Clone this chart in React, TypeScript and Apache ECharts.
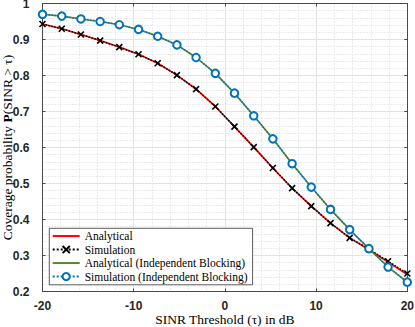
import React, { useEffect, useRef } from "react";
import * as echarts from "echarts";

// SINR threshold samples (dB)
const thresholdDb = [
  -20, -17.89, -15.79, -13.68, -11.58, -9.47, -7.37, -5.26, -3.16, -1.05,
  1.05, 3.16, 5.26, 7.37, 9.47, 11.58, 13.68, 15.79, 17.89, 20,
];
const analytical = [
  0.943, 0.93, 0.914, 0.897, 0.879, 0.859, 0.834, 0.801, 0.762, 0.714,
  0.658, 0.601, 0.543, 0.487, 0.437, 0.39, 0.349, 0.316, 0.282, 0.247,
];
const simulation = [
  0.943, 0.93, 0.914, 0.897, 0.879, 0.859, 0.834, 0.801, 0.762, 0.714,
  0.658, 0.601, 0.543, 0.487, 0.437, 0.39, 0.349, 0.318, 0.284, 0.25,
];
const analyticalIndep = [
  0.97, 0.965, 0.957, 0.95, 0.941, 0.928, 0.909, 0.885, 0.85, 0.806,
  0.751, 0.688, 0.624, 0.555, 0.49, 0.428, 0.372, 0.319, 0.268, 0.226,
];
const simulationIndep = [
  0.97, 0.965, 0.957, 0.95, 0.941, 0.928, 0.909, 0.885, 0.85, 0.806,
  0.751, 0.688, 0.624, 0.555, 0.49, 0.428, 0.372, 0.319, 0.268, 0.226,
];
const seriesNames = [
  "Analytical",
  "Simulation",
  "Analytical (Independent Blocking)",
  "Simulation (Independent Blocking)",
];

const pair = (ys: number[]) => thresholdDb.map((x, i) => [x, ys[i]]);

const SERIF = "'Liberation Serif', 'DejaVu Serif', serif";
const SANS = "'Liberation Sans', Arial, sans-serif";
const AXIS_COLOR = "#4a4a4a";

export default function App() {
  const ref = useRef<HTMLDivElement>(null);
  useEffect(() => {
    if (!ref.current) return;
    const chart = echarts.init(ref.current, undefined, { renderer: "svg" });
    const boxAxis = {
      axisLine: { show: true, onZero: false, lineStyle: { color: AXIS_COLOR, width: 1 } },
      axisTick: { show: true, inside: true, length: 3, lineStyle: { color: AXIS_COLOR } },
      axisLabel: { show: false },
      splitLine: { show: false },
      minorSplitLine: { show: false },
    };
    chart.setOption({
      animation: false,
      backgroundColor: "#ffffff",
      grid: {
        left: 42.5,
        right: 7.7,
        top: 3.5,
        bottom: 35.5,
        containLabel: false,
        outerBoundsMode: "none",
      },
      xAxis: [
        {
          type: "value",
          min: -20,
          max: 20,
          interval: 10,
          position: "bottom",
          name: "SINR Threshold (τ) in dB",
          nameLocation: "middle",
          nameGap: 20.5,
          nameMoveOverlap: false,
          nameTextStyle: { fontFamily: SERIF, fontSize: 13.5, color: "#000" },
          axisLine: { show: true, onZero: false, lineStyle: { color: AXIS_COLOR, width: 1 } },
          axisTick: { show: true, inside: true, length: 3, lineStyle: { color: AXIS_COLOR } },
          axisLabel: { fontFamily: SANS, fontWeight: "bold", fontSize: 12, color: "#262626", margin: 8 },
          splitLine: { show: true, lineStyle: { color: "#e3e3e3", width: 1 } },
          minorTick: { show: false, splitNumber: 5 },
          minorSplitLine: { show: true, lineStyle: { color: "#d6d6d6", width: 1, type: [1, 2] } },
        },
        { type: "value", min: -20, max: 20, interval: 10, position: "top", ...boxAxis },
      ],
      yAxis: [
        {
          type: "value",
          min: 0.2,
          max: 1,
          interval: 0.1,
          position: "left",
          name: "Coverage probability {b|P}(SINR > τ)",
          nameLocation: "middle",
          nameGap: 28.5,
          nameMoveOverlap: false,
          nameTextStyle: {
            fontFamily: SERIF,
            fontSize: 13.5,
            lineHeight: 13,
            color: "#000",
            rich: {
              b: { fontFamily: SERIF, fontSize: 13.5, lineHeight: 13, fontWeight: "bold", color: "#000" },
            },
          },
          axisLine: { show: true, onZero: false, lineStyle: { color: AXIS_COLOR, width: 1 } },
          axisTick: { show: true, inside: true, length: 3, lineStyle: { color: AXIS_COLOR } },
          axisLabel: { fontFamily: SANS, fontWeight: "bold", fontSize: 12, color: "#262626", margin: 13 },
          splitLine: { show: true, lineStyle: { color: "#e3e3e3", width: 1 } },
          minorTick: { show: false, splitNumber: 5 },
          minorSplitLine: { show: true, lineStyle: { color: "#d6d6d6", width: 1, type: [1, 2] } },
        },
        { type: "value", min: 0.2, max: 1, interval: 0.1, position: "right", ...boxAxis },
      ],
      legend: {
        orient: "vertical",
        left: 49.3,
        top: 228.3,
        padding: [1, 5, 1.5, 2.4],
        itemGap: 0,
        itemWidth: 27,
        itemHeight: 9,
        backgroundColor: "#ffffff",
        borderColor: "#333333",
        borderWidth: 0.8,
        borderRadius: 0,
        textStyle: { fontFamily: SERIF, fontSize: 11.5, color: "#000", lineHeight: 13.5 },
        data: [
          { name: seriesNames[0], itemStyle: { opacity: 0 } },
          { name: seriesNames[1] },
          { name: seriesNames[2], itemStyle: { opacity: 0 } },
          { name: seriesNames[3] },
        ],
      },
      series: [
        {
          name: seriesNames[0],
          type: "line",
          data: pair(analytical),
          showSymbol: false,
          symbol: "none",
          lineStyle: { color: "#ff0000", width: 1.6 },
          itemStyle: { color: "#ff0000" },
          z: 2,
        },
        {
          name: seriesNames[1],
          type: "line",
          data: pair(simulation),
          symbol: "path://M0,0L10,10M10,0L0,10",
          symbolSize: 6,
          lineStyle: { color: "#000000", width: 1.5, type: "dotted" },
          itemStyle: { color: "#000000", borderColor: "#000000", borderWidth: 1.6 },
          z: 3,
        },
        {
          name: seriesNames[2],
          type: "line",
          data: pair(analyticalIndep),
          symbol: "none",
          lineStyle: { color: "#568a2a", width: 1.6 },
          itemStyle: { color: "#568a2a" },
          z: 4,
        },
        {
          name: seriesNames[3],
          type: "line",
          data: pair(simulationIndep),
          symbol: "emptyCircle",
          symbolSize: 7.5,
          lineStyle: { color: "#0072bd", width: 1.5, type: "dotted" },
          itemStyle: { color: "#0072bd", borderColor: "#0072bd", borderWidth: 1.8 },
          z: 5,
        },
      ],
    });
    return () => chart.dispose();
  }, []);
  return (
    <div
      ref={ref}
      style={{ position: "absolute", left: 0, top: 0, width: 415, height: 327 }}
    />
  );
}
